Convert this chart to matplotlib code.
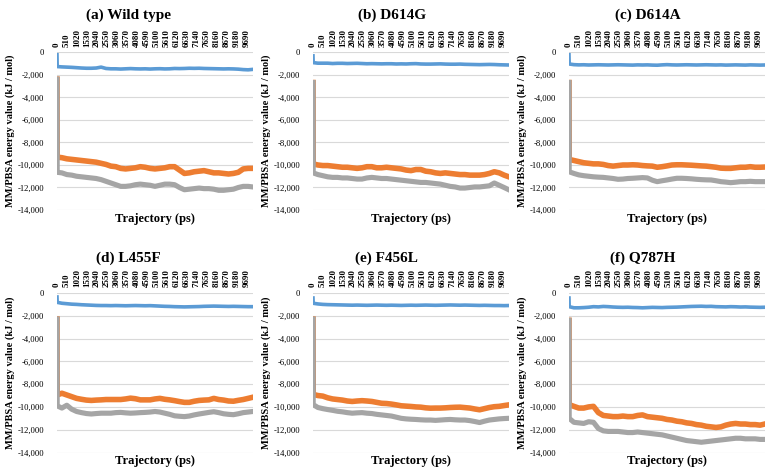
import numpy as np
import matplotlib

matplotlib.use("agg")
import matplotlib.pyplot as plt

plt.rcParams["font.family"] = ["Liberation Serif", "DejaVu Serif"]

# sampled trajectory times (ps)
time_ps = [0, 10, 250, 500, 750, 1000, 1250, 1500, 1750, 2000, 2250, 2500, 2750, 3000,
           3250, 3500, 3750, 4000, 4250, 4500, 4750, 5000, 5250, 5500, 5750, 6000,
           6250, 6500, 6750, 7000, 7250, 7500, 7750, 8000, 8250, 8500, 8750, 9000,
           9250, 9500, 9750, 9990]

titles = ["(a) Wild type", "(b) D614G", "(c) D614A", "(d) L455F", "(e) F456L", "(f) Q787H"]

# blue series
blue_a = [-200, -1250, -1280, -1300, -1320, -1350, -1380, -1400, -1400, -1380, -1300, -1420,
          -1450, -1450, -1470, -1450, -1430, -1450, -1460, -1450, -1470, -1450, -1440, -1460,
          -1450, -1420, -1430, -1420, -1400, -1410, -1400, -1420, -1430, -1440, -1450, -1460,
          -1450, -1460, -1480, -1520, -1540, -1500]
blue_b = [-300, -900, -950, -950, -950, -980, -960, -960, -980, -970, -960, -980,
          -1000, -990, -1000, -1010, -1000, -1000, -1020, -1010, -1020, -1000, -990, -1020,
          -1030, -1030, -1020, -1010, -1030, -1040, -1040, -1030, -1050, -1060, -1070, -1080,
          -1070, -1060, -1070, -1090, -1100, -1110]
blue_c = [-200, -1020, -1080, -1100, -1090, -1110, -1100, -1090, -1100, -1110, -1100, -1090,
          -1100, -1110, -1120, -1100, -1110, -1100, -1120, -1130, -1100, -1080, -1100, -1110,
          -1100, -1090, -1100, -1110, -1100, -1090, -1100, -1110, -1100, -1120, -1110, -1100,
          -1110, -1120, -1100, -1110, -1120, -1110]
blue_d = [-350, -820, -900, -940, -980, -1000, -1030, -1050, -1070, -1090, -1100, -1100,
          -1110, -1100, -1110, -1120, -1110, -1100, -1110, -1120, -1110, -1130, -1150, -1170,
          -1180, -1200, -1210, -1220, -1210, -1200, -1190, -1170, -1160, -1150, -1160, -1170,
          -1180, -1170, -1180, -1190, -1200, -1200]
blue_e = [-440, -900, -960, -1000, -1020, -1030, -1040, -1050, -1060, -1070, -1060, -1070,
          -1080, -1070, -1060, -1070, -1080, -1070, -1080, -1090, -1080, -1070, -1080, -1070,
          -1060, -1070, -1080, -1070, -1060, -1050, -1060, -1070, -1060, -1070, -1080, -1090,
          -1080, -1090, -1100, -1100, -1110, -1100]
blue_f = [-440, -1200, -1300, -1300, -1280, -1250, -1200, -1220, -1180, -1200, -1230, -1250,
          -1260, -1250, -1270, -1280, -1300, -1280, -1260, -1270, -1280, -1260, -1250, -1240,
          -1220, -1200, -1180, -1170, -1160, -1180, -1170, -1200, -1210, -1220, -1200, -1210,
          -1230, -1220, -1240, -1250, -1260, -1250]

# orange series
orange_a = [-2370, -9300, -9350, -9450, -9500, -9550, -9600, -9650, -9700, -9750, -9850, -9950,
            -10100, -10150, -10300, -10350, -10300, -10250, -10150, -10200, -10300, -10350,
            -10300, -10250, -10150, -10150, -10450, -10750, -10700, -10600, -10550, -10500,
            -10600, -10700, -10700, -10750, -10800, -10750, -10650, -10350, -10300, -10300]
orange_b = [-2670, -9900, -10000, -10050, -10050, -10100, -10150, -10200, -10200, -10250,
            -10300, -10250, -10150, -10150, -10250, -10250, -10200, -10250, -10300, -10350,
            -10450, -10500, -10400, -10400, -10550, -10600, -10700, -10750, -10700, -10750,
            -10800, -10850, -10850, -10900, -10900, -10900, -10850, -10750, -10600, -10700,
            -10900, -11050]
orange_c = [-2670, -9500, -9600, -9700, -9800, -9850, -9900, -9900, -9950, -10050, -10100,
            -10050, -10000, -10000, -9980, -10000, -10050, -10080, -10100, -10200, -10150,
            -10080, -10000, -9980, -9980, -10000, -10020, -10050, -10080, -10100, -10150,
            -10200, -10280, -10300, -10300, -10250, -10200, -10200, -10150, -10200, -10200,
            -10180]
orange_d = [-2290, -8950, -8800, -8950, -9100, -9250, -9330, -9400, -9430, -9400, -9380, -9350,
            -9350, -9350, -9350, -9300, -9230, -9280, -9380, -9380, -9380, -9300, -9250, -9330,
            -9380, -9450, -9530, -9600, -9600, -9500, -9430, -9400, -9380, -9250, -9350, -9400,
            -9480, -9500, -9420, -9350, -9250, -9150]
orange_e = [-2290, -8900, -9000, -9050, -9200, -9300, -9350, -9400, -9480, -9520, -9480, -9450,
            -9480, -9520, -9600, -9680, -9700, -9750, -9820, -9900, -9930, -9960, -10000,
            -10020, -10080, -10110, -10100, -10100, -10080, -10050, -10030, -10020, -10060,
            -10100, -10180, -10250, -10150, -10050, -9980, -9950, -9880, -9820]
orange_f = [-2400, -9800, -9950, -10100, -10100, -10000, -9950, -10500, -10750, -10800,
            -10850, -10850, -10800, -10850, -10850, -10750, -10700, -10850, -10900, -10950,
            -11000, -11100, -11150, -11250, -11300, -11400, -11450, -11550, -11600, -11700,
            -11750, -11800, -11750, -11600, -11500, -11450, -11500, -11500, -11550, -11550,
            -11600, -11500]

# gray series
gray_a = [-2370, -10650, -10700, -10850, -10900, -11000, -11050, -11100, -11150, -11200,
          -11300, -11450, -11600, -11750, -11900, -11900, -11850, -11750, -11700, -11750,
          -11800, -11900, -11800, -11700, -11700, -11750, -12000, -12200, -12150, -12100,
          -12050, -12100, -12100, -12150, -12250, -12250, -12200, -12150, -12000, -11900,
          -11900, -11950]
gray_b = [-2670, -10700, -10850, -10950, -11050, -11100, -11100, -11150, -11150, -11200,
          -11250, -11250, -11150, -11100, -11150, -11200, -11200, -11250, -11300, -11350,
          -11400, -11450, -11500, -11550, -11550, -11600, -11650, -11700, -11800, -11900,
          -11950, -12050, -12050, -12000, -11950, -11950, -11900, -11850, -11600, -11800,
          -12000, -12200]
gray_c = [-2670, -10600, -10750, -10880, -10950, -11000, -11050, -11080, -11100, -11150,
          -11200, -11270, -11250, -11200, -11180, -11150, -11120, -11150, -11350, -11480,
          -11400, -11330, -11250, -11180, -11180, -11200, -11230, -11270, -11300, -11320,
          -11330, -11400, -11480, -11520, -11570, -11530, -11480, -11480, -11450, -11480,
          -11480, -11480]
gray_d = [-2290, -9900, -10100, -9850, -10200, -10400, -10500, -10580, -10620, -10580,
          -10550, -10550, -10550, -10500, -10480, -10520, -10550, -10530, -10500, -10480,
          -10450, -10400, -10450, -10550, -10650, -10780, -10820, -10850, -10800, -10700,
          -10620, -10550, -10480, -10420, -10500, -10600, -10650, -10680, -10600, -10500,
          -10450, -10400]
gray_e = [-2290, -9800, -10050, -10150, -10230, -10300, -10380, -10430, -10500, -10550,
          -10520, -10500, -10550, -10580, -10650, -10700, -10750, -10800, -10900, -11000,
          -11050, -11080, -11100, -11130, -11150, -11150, -11180, -11150, -11120, -11100,
          -11130, -11150, -11150, -11200, -11280, -11370, -11250, -11150, -11100, -11050,
          -11020, -11000]
gray_f = [-2400, -11000, -11350, -11400, -11450, -11300, -11350, -11900, -12100, -12150,
          -12150, -12150, -12200, -12250, -12250, -12200, -12250, -12300, -12350, -12400,
          -12450, -12550, -12650, -12750, -12850, -12950, -13000, -13050, -13100, -13050,
          -13000, -12950, -12900, -12850, -12800, -12750, -12750, -12800, -12800, -12800,
          -12850, -12850]

blues = [blue_a, blue_b, blue_c, blue_d, blue_e, blue_f]
oranges = [orange_a, orange_b, orange_c, orange_d, orange_e, orange_f]
grays = [gray_a, gray_b, gray_c, gray_d, gray_e, gray_f]

xtick_values = list(range(0, 9691, 510))
ytick_values = [0, -2000, -4000, -6000, -8000, -10000, -12000, -14000]

fig = plt.figure(figsize=(7.75, 4.74), dpi=100)

W, H = 775.0, 474.0
ax_lefts = [57, 313, 569]
ax_tops = [52.5, 293]
ax_bottoms = [210, 452.5]
ax_width = 196
title_x = [128, 392, 648, 128, 386, 643]
title_y = [15, 258]

for i in range(6):
    row, col = divmod(i, 3)
    left = ax_lefts[col] / W
    bottom = 1 - ax_bottoms[row] / H
    height = (ax_bottoms[row] - ax_tops[row]) / H
    ax = fig.add_axes([left, bottom, ax_width / W, height])

    ax.plot(time_ps, blues[i], color="#5B9BD5", lw=2.6, solid_joinstyle="round")
    ax.plot(time_ps, oranges[i], color="#ED7D31", lw=4.0, solid_joinstyle="round")
    ax.plot(time_ps, grays[i], color="#A5A5A5", lw=3.7, solid_joinstyle="round")

    ax.set_xlim(0, 10000)
    ax.set_ylim(-14000, 0)
    ax.set_yticks(ytick_values)
    ax.set_yticklabels(["{:,}".format(v) for v in ytick_values], fontsize=6.2)
    ax.yaxis.grid(True, color="#D9D9D9", lw=0.8)
    ax.set_axisbelow(True)

    ax.set_xticks(xtick_values)
    ax.set_xticklabels([str(v) for v in xtick_values], rotation=90, fontsize=6.5,
                       fontweight="bold")
    ax.xaxis.tick_top()
    ax.tick_params(axis="x", length=0, pad=4)
    ax.tick_params(axis="y", length=0, pad=9)
    for s in ax.spines.values():
        s.set_visible(False)

    ax.set_xlabel("Trajectory (ps)", fontsize=9, fontweight="bold", labelpad=2)
    ax.xaxis.set_label_position("bottom")
    ax.set_ylabel("MM/PBSA energy value (kJ / mol)", fontsize=7.5, fontweight="bold")
    ax.yaxis.set_label_coords(-0.215, 0.5)

    fig.text(title_x[i] / W, 1 - title_y[row] / H, titles[i], fontsize=11,
             fontweight="bold", ha="center", va="center")

fig.savefig("out.png", dpi=100)
